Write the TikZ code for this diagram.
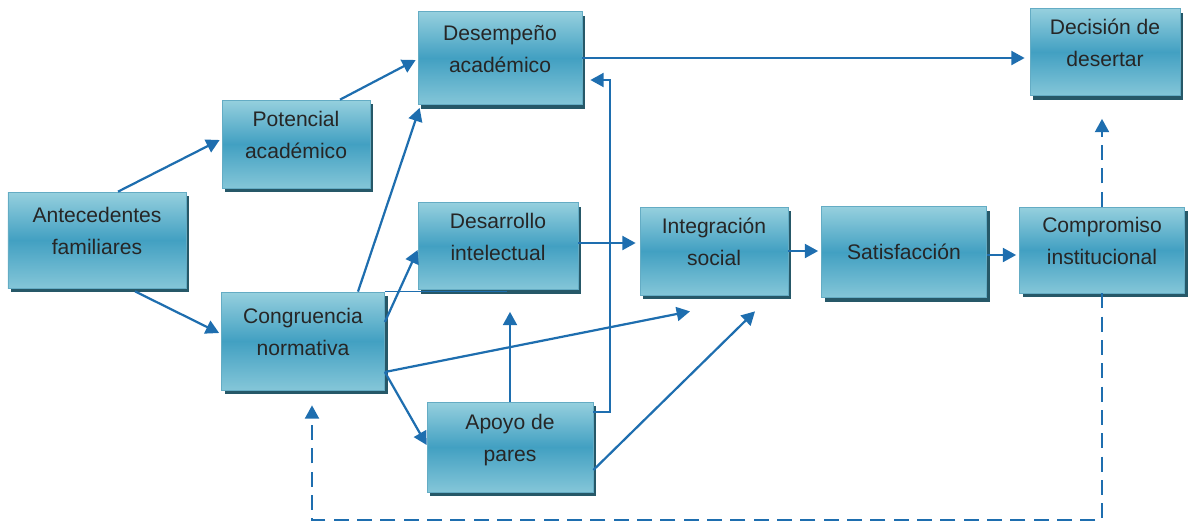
\documentclass[tikz,border=0pt]{standalone}
\usepackage{fontspec}
\setmainfont{Liberation Sans}
\usetikzlibrary{positioning, arrows.meta, calc, shadows}

\definecolor{boxtop}{RGB}{150,208,222}
\definecolor{boxmid}{RGB}{66,160,194}
\definecolor{boxbot}{RGB}{132,198,216}
\definecolor{boxline}{RGB}{100,172,196}
\definecolor{boxshadow}{RGB}{38,88,104}
\definecolor{linkblue}{RGB}{30,110,175}

\begin{document}
\begin{tikzpicture}[
    x=0.03cm, y=-0.03cm,
    arrow/.style={-{Triangle[length=4mm, width=4.2mm]}, draw=linkblue, line width=1.9pt},
    dasharrow/.style={arrow, dash pattern=on 4.5mm off 2.5mm},
    block/.style={rectangle, draw=boxline, line width=0.6pt, align=center,
                  top color=boxtop, bottom color=boxbot, middle color=boxmid,
                  text=black!85, font=\fontsize{18}{27.5}\selectfont,
                  drop shadow={shadow xshift=0.09cm, shadow yshift=-0.12cm,
                               fill=boxshadow, opacity=1}},
    lift/.style={text depth=16pt}
]
    \useasboundingbox (0,0) rectangle (1188,524);

    % Boxes
    \node[block, lift, minimum width=5.34cm, minimum height=2.88cm] (ant) at (97,240) {Antecedentes\\familiares};
    \node[block, lift, minimum width=4.44cm, minimum height=2.64cm] (pot) at (296,144) {Potencial\\académico};
    \node[block, lift, minimum width=4.92cm, minimum height=2.79cm] (desm) at (500,58) {Desempeño\\académico};
    \node[block, lift, minimum width=4.50cm, minimum height=2.61cm] (dec) at (1105,52) {Decisión de\\desertar};
    \node[block, lift, minimum width=4.80cm, minimum height=2.61cm] (desa) at (498,246) {Desarrollo\\intelectual};
    \node[block, lift, minimum width=4.44cm, minimum height=2.64cm] (integ) at (714,251) {Integración\\social};
    \node[block, minimum width=4.95cm, minimum height=2.73cm] (sat) at (904,252) {Satisfacción};
    \node[block, lift, minimum width=4.95cm, minimum height=2.58cm] (comp) at (1102,250) {Compromiso\\institucional};
    \node[block, lift, minimum width=4.89cm, minimum height=2.94cm] (cong) at (303,341) {Congruencia\\normativa};
    \node[block, lift, minimum width=4.98cm, minimum height=2.70cm] (apoyo) at (510,447) {Apoyo de\\pares};

    \coordinate (bend) at (610,80);
    \coordinate (bottom) at (312,520);

    % stray line along the top of Congruencia
    \draw[linkblue, line width=0.8pt] (cong.north east) -- +(122,0);

    % Arrows
    \draw[arrow] ($(ant.north)+(21,0)$) -- ($(pot.west)+(-2,-4)$);
    \draw[arrow] ($(ant.south)+(38,3)$) -- ($(cong.west)+(-2,-8)$);
    \draw[arrow] ($(pot.north)+(44,0)$) -- ($(desm.west)+(-2,2)$);
    \draw[arrow] ($(cong.north)+(55,0)$) -- ($(desm.south west)+(2,3)$);
    \draw[arrow] ($(cong.east)+(0,-19)$) -- ($(desa.west)+(0,4)$);
    \draw[arrow] ($(cong.east)+(0,31)$) -- ($(integ.south)+(-24,16)$);
    \draw[arrow] ($(cong.east)+(0,31)$) -- ($(apoyo.west)+(0,-2)$);
    \draw[arrow] (apoyo.north) -- ($(desa.south)+(12,22)$);
    \draw[arrow] ($(apoyo.east)+(0,-35)$) -| (bend) -- ($(desm.east)+(8,22)$);
    \draw[arrow] ($(apoyo.east)+(0,23)$) -- ($(integ.south)+(41,16)$);
    \draw[arrow] ($(desa.east)+(0,-3)$) -- ($(integ.west)+(-4,-8)$);
    \draw[arrow] (desm.east) -- ($(desm.east -| dec.west)+(-5,0)$);
    \draw[arrow] (integ.east) -- ($(integ.east -| sat.west)+(-3,0)$);
    \draw[arrow] ($(sat.east)+(0,3)$) -- ($(sat.east -| comp.west)+(-3,3)$);

    % Dashed links
    \draw[dasharrow] (comp.north) -- ($(dec.south)+(-3,23)$);
    \draw[dasharrow] (comp.south) |- (bottom) -- ($(cong.south)+(9,15)$);

\end{tikzpicture}
\end{document}
